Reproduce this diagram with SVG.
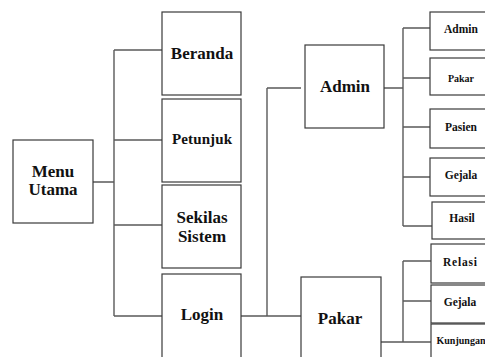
<svg xmlns="http://www.w3.org/2000/svg" width="485" height="357" viewBox="0 0 485 357">
<style>
.box{fill:#fff;stroke:#3a3a3a;stroke-width:1.2}
.ln{fill:none;stroke:#5a5a5a;stroke-width:1.4}
.t{font-family:'Liberation Serif','DejaVu Serif',serif;font-weight:bold;fill:#111;text-anchor:middle}
.lg{font-size:17px}
.md{font-size:15px}
.sm{font-size:11.5px}
.xs{font-size:10px}
</style>
<rect width="485" height="357" fill="#fff"/>
<g id="connectors">
<path class="ln" d="M93,182 H114 M114,50 V316 M114,50 H162 M114,140 H162 M114,225 H162 M114,316 H162"/>
<path class="ln" d="M241,316 H301 M267,88 V316 M267,88 H301"/>
<path class="ln" d="M384,88 H403 M403,28 V226 M403,28 H430 M403,78 H430 M403,127 H430 M403,177 H430 M403,226 H432"/>
<path class="ln" d="M381,342 H432 M403,261 V342 M403,261 H431 M403,301 H431"/>
</g>
<g id="menu-utama"><rect class="box" x="13" y="140" width="80" height="83"/><text class="t lg" x="53" y="177">Menu</text><text class="t lg" x="53" y="195">Utama</text></g>
<g id="beranda"><rect class="box" x="162" y="12" width="79" height="83"/><text class="t lg" x="202" y="59">Beranda</text></g>
<g id="petunjuk"><rect class="box" x="162" y="99" width="79" height="83"/><text class="t md" x="202" y="144" textLength="60">Petunjuk</text></g>
<g id="sekilas-sistem"><rect class="box" x="162" y="185" width="79" height="83"/><text class="t lg" x="202" y="223">Sekilas</text><text class="t lg" x="202" y="242">Sistem</text></g>
<g id="login"><rect class="box" x="162" y="274" width="79" height="90"/><text class="t lg" x="202" y="320">Login</text></g>
<g id="admin"><rect class="box" x="305" y="45" width="79" height="83"/><text class="t lg" x="345" y="92">Admin</text></g>
<g id="pakar"><rect class="box" x="301" y="277" width="80" height="90"/><text class="t lg" x="340" y="324">Pakar</text></g>
<g id="admin-admin"><rect class="box" x="430" y="12" width="62" height="38"/><text class="t sm" x="461" y="33">Admin</text></g>
<g id="admin-pakar"><rect class="box" x="430" y="58" width="62" height="37"/><text class="t xs" x="461" y="82">Pakar</text></g>
<g id="admin-pasien"><rect class="box" x="430" y="109" width="62" height="39"/><text class="t sm" x="461" y="131">Pasien</text></g>
<g id="admin-gejala"><rect class="box" x="430" y="158" width="62" height="38"/><text class="t sm" x="461" y="179">Gejala</text></g>
<g id="admin-hasil"><rect class="box" x="432" y="202" width="62" height="37"/><text class="t sm" x="462" y="222">Hasil</text></g>
<g id="pakar-relasi"><rect class="box" x="431" y="244" width="62" height="39"/><text class="t sm" x="460" y="266" textLength="34">Relasi</text></g>
<g id="pakar-gejala"><rect class="box" x="431" y="285" width="62" height="38"/><text class="t sm" x="460" y="306">Gejala</text></g>
<g id="pakar-kunjungan"><rect class="box" x="431" y="324" width="62" height="40"/><text class="t xs" x="461" y="344">Kunjungan</text></g>
</svg>
